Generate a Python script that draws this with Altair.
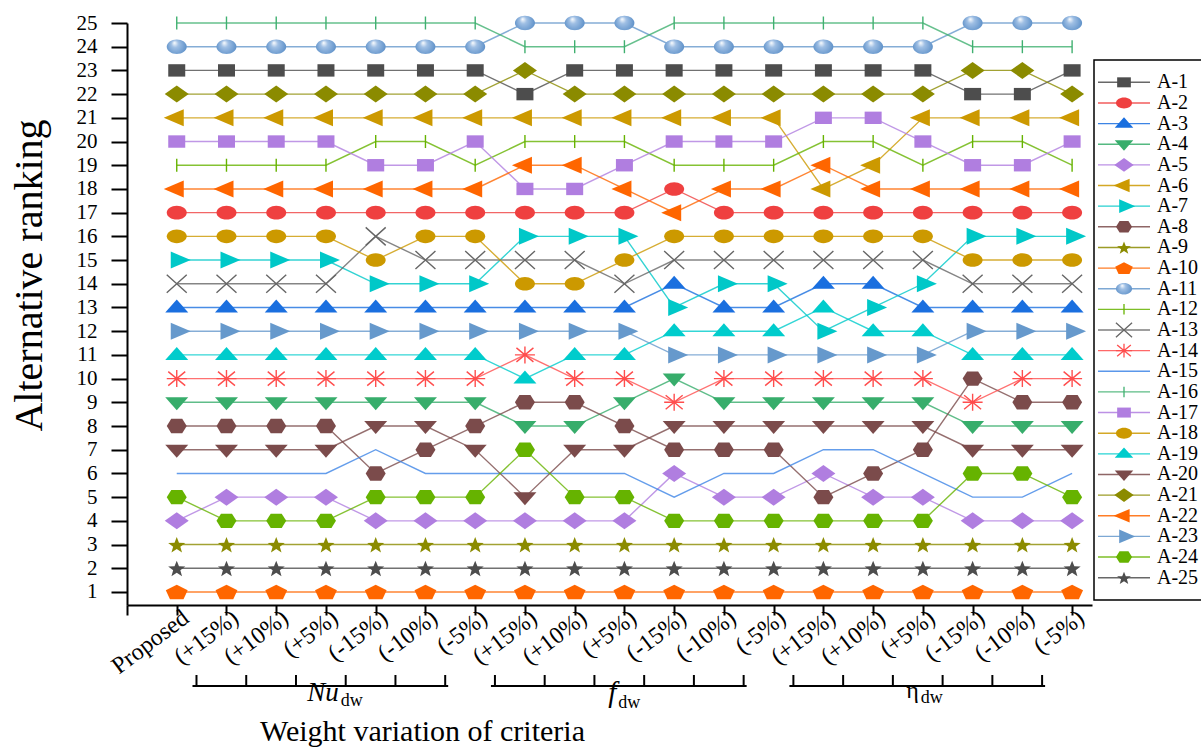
import math
import altair as alt
import pandas as pd

# ---------------- data ----------------
x_labels = ["Proposed", "(+15%)", "(+10%)", "(+5%)", "(-15%)", "(-10%)", "(-5%)",
            "(+15%)", "(+10%)", "(+5%)", "(-15%)", "(-10%)", "(-5%)",
            "(+15%)", "(+10%)", "(+5%)", "(-15%)", "(-10%)", "(-5%)"]
series = [f"A-{i}" for i in range(1, 26)]

r_A1 = [23, 23, 23, 23, 23, 23, 23, 22, 23, 23, 23, 23, 23, 23, 23, 23, 22, 22, 23]
r_A2 = [17, 17, 17, 17, 17, 17, 17, 17, 17, 17, 18, 17, 17, 17, 17, 17, 17, 17, 17]
r_A3 = [13, 13, 13, 13, 13, 13, 13, 13, 13, 13, 14, 13, 13, 14, 14, 13, 13, 13, 13]
r_A4 = [9, 9, 9, 9, 9, 9, 9, 8, 8, 9, 10, 9, 9, 9, 9, 9, 8, 8, 8]
r_A5 = [4, 5, 5, 5, 4, 4, 4, 4, 4, 4, 6, 5, 5, 6, 5, 5, 4, 4, 4]
r_A6 = [21, 21, 21, 21, 21, 21, 21, 21, 21, 21, 21, 21, 21, 18, 19, 21, 21, 21, 21]
r_A7 = [15, 15, 15, 15, 14, 14, 14, 16, 16, 16, 13, 14, 14, 12, 13, 14, 16, 16, 16]
r_A8 = [8, 8, 8, 8, 6, 7, 8, 9, 9, 8, 7, 7, 7, 5, 6, 7, 10, 9, 9]
r_A9 = [3, 3, 3, 3, 3, 3, 3, 3, 3, 3, 3, 3, 3, 3, 3, 3, 3, 3, 3]
r_A10 = [1, 1, 1, 1, 1, 1, 1, 1, 1, 1, 1, 1, 1, 1, 1, 1, 1, 1, 1]
r_A11 = [24, 24, 24, 24, 24, 24, 24, 25, 25, 25, 24, 24, 24, 24, 24, 24, 25, 25, 25]
r_A12 = [19, 19, 19, 19, 20, 20, 19, 20, 20, 20, 19, 19, 19, 20, 20, 19, 20, 20, 19]
r_A13 = [14, 14, 14, 14, 16, 15, 15, 15, 15, 14, 15, 15, 15, 15, 15, 15, 14, 14, 14]
r_A14 = [10, 10, 10, 10, 10, 10, 10, 11, 10, 10, 9, 10, 10, 10, 10, 10, 9, 10, 10]
r_A15 = [6, 6, 6, 6, 7, 6, 6, 6, 6, 6, 5, 6, 6, 7, 7, 6, 5, 5, 6]
r_A16 = [25, 25, 25, 25, 25, 25, 25, 24, 24, 24, 25, 25, 25, 25, 25, 25, 24, 24, 24]
r_A17 = [20, 20, 20, 20, 19, 19, 20, 18, 18, 19, 20, 20, 20, 21, 21, 20, 19, 19, 20]
r_A18 = [16, 16, 16, 16, 15, 16, 16, 14, 14, 15, 16, 16, 16, 16, 16, 16, 15, 15, 15]
r_A19 = [11, 11, 11, 11, 11, 11, 11, 10, 11, 11, 12, 12, 12, 13, 12, 12, 11, 11, 11]
r_A20 = [7, 7, 7, 7, 8, 8, 7, 5, 7, 7, 8, 8, 8, 8, 8, 8, 7, 7, 7]
r_A21 = [22, 22, 22, 22, 22, 22, 22, 23, 22, 22, 22, 22, 22, 22, 22, 22, 23, 23, 22]
r_A22 = [18, 18, 18, 18, 18, 18, 18, 19, 19, 18, 17, 18, 18, 19, 18, 18, 18, 18, 18]
r_A23 = [12, 12, 12, 12, 12, 12, 12, 12, 12, 12, 11, 11, 11, 11, 11, 11, 12, 12, 12]
r_A24 = [5, 4, 4, 4, 5, 5, 5, 7, 5, 5, 4, 4, 4, 4, 4, 4, 6, 6, 5]
r_A25 = [2, 2, 2, 2, 2, 2, 2, 2, 2, 2, 2, 2, 2, 2, 2, 2, 2, 2, 2]

group_names = ["Nu", "f", "η"]
group_subs = ["dw", "dw", "dw"]
group_start = [1, 7, 13]
group_end = [6, 12, 18]

# ---------------- styling ----------------
colors = ["#4d4d4d", "#ef4040", "#1a6fdf", "#37ad6b", "#b07ee0", "#cc9900", "#00c8c8",
          "#7b4b4b", "#8b8b00", "#ff6600", "#6699cc", "#66b300", "#666666", "#ff4d4d",
          "#3d85e6", "#40b070", "#b07ee0", "#cc9900", "#00cccc", "#7b4b4b", "#8b8b00",
          "#ff6600", "#6699cc", "#66b300", "#4d4d4d"]


def poly(points):
    return "M" + "L".join(f"{px:.3f},{py:.3f}" for px, py in points) + "Z"


def star(rx, ry, inner=0.42):
    pts = []
    for k in range(10):
        a = math.pi * k / 5 - math.pi / 2
        r = 1.0 if k % 2 == 0 else inner
        pts.append((r * rx * math.cos(a), r * ry * math.sin(a) + 0.1))
    return poly(pts)


def pentagon(rx, ry):
    pts = []
    for k in range(5):
        a = 2 * math.pi * k / 5 - math.pi / 2
        pts.append((rx * math.cos(a), ry * math.sin(a) + 0.08))
    return poly(pts)


SQUARE = "M-0.85,-0.62H0.85V0.62H-0.85Z"
ELLIPSE = "M-1,0A1,0.68 0 1,0 1,0A1,0.68 0 1,0 -1,0Z"
SPHERE = "M-1,0A1,0.72 0 1,0 1,0A1,0.72 0 1,0 -1,0Z"
TRI_UP = "M0,-0.8L1.15,0.5L-1.15,0.5Z"
TRI_DOWN = "M0,0.8L1.15,-0.5L-1.15,-0.5Z"
DIAMOND = "M-1.2,0L0,-0.85L1.2,0L0,0.85Z"
TRI_LEFT = "M-1.3,0L0.7,-0.85L0.7,0.85Z"
TRI_RIGHT = "M-0.6,-0.85L1.4,0L-0.6,0.85Z"
HEXAGON = "M-1,0L-0.55,-0.72L0.55,-0.72L1,0L0.55,0.72L-0.55,0.72Z"
STAR = star(0.9, 0.85)
PENTA = pentagon(1.15, 0.8)
VBAR = "M0,-0.65L0,0.65"
XCROSS = "M-1,-0.9L1,0.9M-1,0.9L1,-0.9"
ASTER = "M-1,0L1,0M0,-0.85L0,0.85M-0.85,-0.7L0.85,0.7M-0.85,0.7L0.85,-0.7"
NONE = "M0,0"

shapes = [SQUARE, ELLIPSE, TRI_UP, TRI_DOWN, DIAMOND, TRI_LEFT, TRI_RIGHT, HEXAGON,
          STAR, PENTA, SPHERE, VBAR, XCROSS, ASTER, NONE, VBAR, SQUARE, ELLIPSE,
          TRI_UP, TRI_DOWN, DIAMOND, TRI_LEFT, TRI_RIGHT, HEXAGON, STAR]

filled_series = [s for s in series if s not in ("A-11", "A-12", "A-13", "A-14", "A-15", "A-16")]
stroked_series = ["A-12", "A-13", "A-14", "A-16"]
sphere_series = ["A-11"]

FONT = "Liberation Serif"

# ---------------- tables ----------------
all_ranks = [r_A1, r_A2, r_A3, r_A4, r_A5, r_A6, r_A7, r_A8, r_A9, r_A10, r_A11, r_A12,
             r_A13, r_A14, r_A15, r_A16, r_A17, r_A18, r_A19, r_A20, r_A21, r_A22,
             r_A23, r_A24, r_A25]
rows = []
for s, rk in zip(series, all_ranks):
    for i, v in enumerate(rk):
        rows.append({"series": s, "col": i, "rank": v})
df = pd.DataFrame(rows)

df_groups = pd.DataFrame({"name": group_names, "sub": group_subs,
                          "start": group_start, "end": group_end})
df_groups["mid"] = (df_groups["start"] + df_groups["end"]) / 2
tick_cols = []
for a, b in zip(group_start, group_end):
    tick_cols += list(range(a, b + 1))
df_ticks = pd.DataFrame({"col": tick_cols})

df_leg = pd.DataFrame({"series": series})

# ---------------- scales / axes ----------------
label_js = "[" + ",".join("'" + l + "'" for l in x_labels) + "]"
x_scale = alt.Scale(domain=[-1, 18.4], nice=False, zero=False)
x_axis = alt.Axis(
    title="Weight variation of criteria", values=list(range(-1, 19)),
    labelExpr=f"datum.value < 0 ? '' : {label_js}[datum.value]",
    labelAngle=-37, labelAlign="right", labelBaseline="middle", labelPadding=0,
    labelOffset=9, labelOverlap=False, labelFlush=False, labelBound=False,
    labelFont=FONT, labelFontSize=24, labelColor="black",
    tickSize=10, tickWidth=2, tickColor="black", domainWidth=2, domainColor="black",
    titleFont=FONT, titleFontSize=30, titleFontWeight="normal", titleColor="black",
    titleX=295, titleY=135, titleAlign="center", titleBaseline="alphabetic",
    grid=False)
y_scale = alt.Scale(domain=[0.45, 25], nice=False, zero=False)
y_axis = alt.Axis(
    title="Alternative ranking", values=list(range(1, 26)),
    labelFont=FONT, labelFontSize=21, labelColor="black", labelPadding=14,
    tickSize=16, tickWidth=2, tickColor="black", domainWidth=2, domainColor="black",
    titleFont=FONT, titleFontSize=40, titleFontWeight="normal", titleColor="black",
    titleAngle=-90, titleX=-98, titleY=252, titleAlign="center", titleBaseline="middle",
    grid=False)

x_enc = alt.X("col:Q", scale=x_scale, axis=x_axis)
y_enc = alt.Y("rank:Q", scale=y_scale, axis=y_axis)
color_enc = alt.Color("series:N", scale=alt.Scale(domain=series, range=colors), legend=None)
shape_enc = alt.Shape("series:N", scale=alt.Scale(domain=series, range=shapes), legend=None)

base = alt.Chart(df)

lines = base.mark_line(strokeWidth=1.4, opacity=0.8).encode(
    x=x_enc, y=y_enc, color=color_enc, detail="series:N", order="col:Q")

filled_pts = base.transform_filter(
    alt.FieldOneOfPredicate(field="series", oneOf=filled_series)
).mark_point(filled=True, opacity=1, size=400).encode(
    x=x_enc, y=y_enc, color=color_enc, shape=shape_enc)

stroked_pts = base.transform_filter(
    alt.FieldOneOfPredicate(field="series", oneOf=stroked_series)
).mark_point(filled=False, opacity=1, size=400, strokeWidth=1.4).encode(
    x=x_enc, y=y_enc, color=color_enc, shape=shape_enc)

grad = {"gradient": "radial", "x1": 0.38, "y1": 0.3, "r1": 0.0,
        "x2": 0.5, "y2": 0.5, "r2": 0.6,
        "stops": [{"offset": 0, "color": "#ffffff"},
                  {"offset": 0.3, "color": "#9fbfe4"},
                  {"offset": 1, "color": "#4f86c2"}]}
sphere_pts = base.transform_filter(
    alt.FieldOneOfPredicate(field="series", oneOf=sphere_series)
).mark_point(filled=True, opacity=1, size=400, fill=grad, strokeOpacity=0).encode(
    x=x_enc, y=y_enc, shape=shape_enc)

# group brackets under the tick labels
bracket_line = alt.Chart(df_groups).mark_rule(
    color="black", strokeWidth=2.2, xOffset=-34, x2Offset=-27).encode(
    x=alt.X("start:Q", scale=x_scale, axis=x_axis), x2="end:Q", y=alt.value(663))
bracket_ticks = alt.Chart(df_ticks).mark_rule(
    color="black", strokeWidth=2, xOffset=-30).encode(
    x=alt.X("col:Q", scale=x_scale, axis=x_axis), y=alt.value(652), y2=alt.value(663))

label_layers = []
main_dx = [-12, -33, -29]
sub_dx = [-10, -31, -27]
main_size = [27, 29, 24]
main_base = [678, 679, 675]
sub_base = [683, 685, 680]
for i in range(3):
    gdf = df_groups.iloc[[i]]
    label_layers.append(alt.Chart(gdf).mark_text(
        font=FONT, fontSize=main_size[i], fontStyle="italic" if i < 2 else "normal",
        align="right", baseline="alphabetic", dx=main_dx[i], color="black").encode(
        x=alt.X("mid:Q", scale=x_scale, axis=x_axis), y=alt.value(main_base[i]),
        text="name:N"))
    label_layers.append(alt.Chart(gdf).mark_text(
        font=FONT, fontSize=18, align="left", baseline="alphabetic",
        dx=sub_dx[i], color="black").encode(
        x=alt.X("mid:Q", scale=x_scale, axis=x_axis), y=alt.value(sub_base[i]),
        text="sub:N"))

main = alt.layer(lines, filled_pts, stroked_pts, sphere_pts,
                 bracket_line, bracket_ticks, *label_layers)

# custom legend (line + marker + label)
leg_y = alt.Y("series:N", scale=alt.Scale(type="point", domain=series, range=[49, 565]),
              axis=None)
leg_box = alt.Chart(pd.DataFrame({"k": [0]})).mark_rect(
    fill="white", stroke="black", strokeWidth=1.5).encode(
    x=alt.value(967), x2=alt.value(1085), y=alt.value(37), y2=alt.value(577))
leg_lines = alt.Chart(df_leg).mark_rule(strokeWidth=1.4, opacity=0.85).encode(
    x=alt.value(971), x2=alt.value(1023), y=leg_y, color=color_enc)
leg_filled = alt.Chart(df_leg).transform_filter(
    alt.FieldOneOfPredicate(field="series", oneOf=filled_series)
).mark_point(filled=True, opacity=1, size=260).encode(
    x=alt.value(997), y=leg_y, color=color_enc, shape=shape_enc)
leg_stroked = alt.Chart(df_leg).transform_filter(
    alt.FieldOneOfPredicate(field="series", oneOf=stroked_series)
).mark_point(filled=False, opacity=1, size=260, strokeWidth=1.3).encode(
    x=alt.value(997), y=leg_y, color=color_enc, shape=shape_enc)
leg_sphere = alt.Chart(df_leg).transform_filter(
    alt.FieldOneOfPredicate(field="series", oneOf=sphere_series)
).mark_point(filled=True, opacity=1, size=260, fill=grad, strokeOpacity=0).encode(
    x=alt.value(997), y=leg_y, shape=shape_enc)
leg_text = alt.Chart(df_leg).mark_text(
    font=FONT, fontSize=20, align="left", baseline="middle", color="black").encode(
    x=alt.value(1030), y=leg_y, text="series:N")

legend = alt.layer(leg_box, leg_lines, leg_filled, leg_stroked, leg_sphere, leg_text)

chart = alt.layer(main, legend).resolve_scale(y="independent").properties(
    width=965, height=582,
    autosize=alt.AutoSizeParams(type="none"),
    padding={"left": 127, "top": 23, "right": 109, "bottom": 142},
).configure_view(stroke=None).configure_axis(grid=False)

chart.save("out.html", embed_options={"renderer": "svg", "actions": False})
